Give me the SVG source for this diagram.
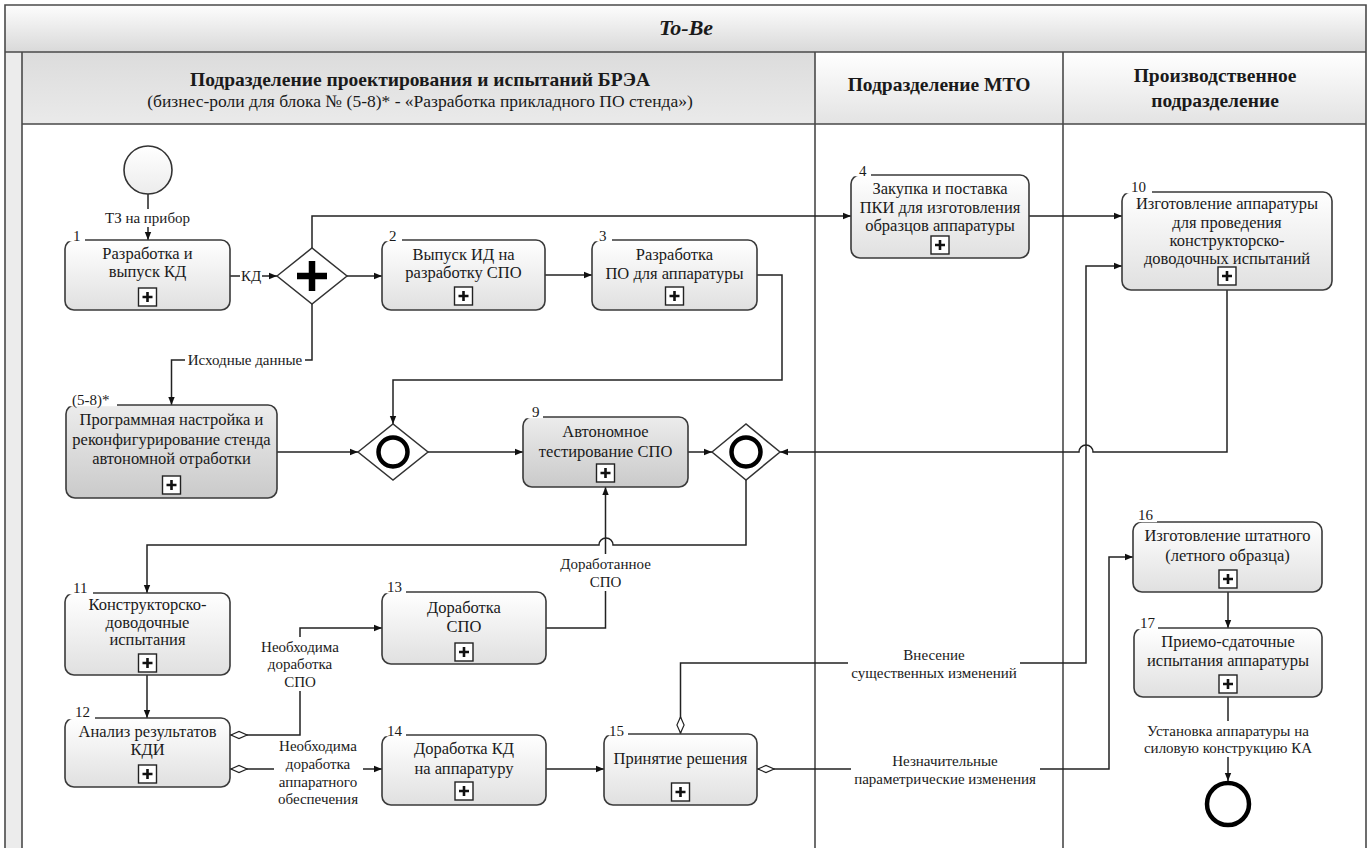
<svg xmlns="http://www.w3.org/2000/svg" width="1371" height="848" viewBox="0 0 1371 848">
  <defs>
    <style>
      text { font-family: "Liberation Serif", "Times New Roman", serif; fill: #1a1a1a; }
      .frame { fill: none; stroke: #4a4a4a; stroke-width: 1.6; }
      .hdr { font-size: 19.5px; font-weight: bold; text-anchor: middle; }
      .sub { font-size: 17.5px; text-anchor: middle; }
      .title { font-size: 22px; font-weight: bold; font-style: italic; text-anchor: middle; }
      .box { fill: url(#gTask); stroke: #3a3a3a; stroke-width: 1.6; }
      .box.dark { fill: url(#gTaskDark); }
      .gap { fill: #ffffff; }
      .tt { font-size: 16.5px; text-anchor: middle; }
      .num { font-size: 15px; }
      .lbl { font-size: 15px; text-anchor: middle; }
      .conn path { fill: none; stroke: #222; stroke-width: 1.5; }
      .flow { marker-end: url(#arrow); }
      .cond { marker-start: url(#cond); }
      .gw { fill: #ffffff; stroke: #333; stroke-width: 1.5; }
    </style>
    <linearGradient id="gTitle" x1="0" y1="0" x2="0" y2="1">
      <stop offset="0" stop-color="#fdfdfd"/>
      <stop offset="1" stop-color="#d9d9d9"/>
    </linearGradient>
    <linearGradient id="gHead1" x1="0" y1="0" x2="0" y2="1">
      <stop offset="0" stop-color="#dcdcdc"/>
      <stop offset="1" stop-color="#eaeaea"/>
    </linearGradient>
    <linearGradient id="gHead2" x1="0" y1="0" x2="0" y2="1">
      <stop offset="0" stop-color="#ffffff"/>
      <stop offset="1" stop-color="#e3e3e3"/>
    </linearGradient>
    <linearGradient id="gTask" x1="0" y1="0" x2="0" y2="1">
      <stop offset="0" stop-color="#ffffff"/>
      <stop offset="1" stop-color="#e0e0e0"/>
    </linearGradient>
    <linearGradient id="gTaskDark" x1="0" y1="0" x2="0" y2="1">
      <stop offset="0" stop-color="#ececec"/>
      <stop offset="1" stop-color="#cacaca"/>
    </linearGradient>
    <linearGradient id="gEvent" x1="0" y1="0" x2="0" y2="1">
      <stop offset="0" stop-color="#ffffff"/>
      <stop offset="1" stop-color="#ececec"/>
    </linearGradient>
    <marker id="arrow" viewBox="0 0 10 10" refX="10" refY="5" markerWidth="9" markerHeight="8" markerUnits="userSpaceOnUse" orient="auto">
      <path d="M0,1 L10,5 L0,9 z" fill="#111"/>
    </marker>
    <marker id="cond" viewBox="0 0 20 10" refX="0" refY="5" markerWidth="18" markerHeight="10" markerUnits="userSpaceOnUse" orient="auto">
      <path d="M1,5 L10,1 L19,5 L10,9 z" fill="#fff" stroke="#222" stroke-width="1.3"/>
    </marker>
    <g id="sub">
      <rect x="-9" y="-9" width="18" height="18" fill="#fff" stroke="#222" stroke-width="1.4"/>
      <path d="M-5,0 H5 M0,-5 V5" stroke="#111" stroke-width="2.6"/>
    </g>
  </defs>

  <!-- pool and lanes -->
  <g id="pool">
    <rect x="0" y="0" width="1371" height="848" fill="#ffffff"/>
    <rect x="5" y="5" width="1361" height="47" fill="url(#gTitle)"/>
    <rect x="5" y="52" width="17" height="800" fill="#ececec"/>
    <rect x="22" y="52" width="793" height="72" fill="url(#gHead1)"/>
    <rect x="815" y="52" width="248" height="72" fill="url(#gHead2)"/>
    <rect x="1063" y="52" width="303" height="72" fill="url(#gHead2)"/>
    <path class="frame" d="M5,852 V5 H1366 V852"/>
    <path class="frame" d="M5,52 H1366" stroke-width="2"/>
    <path class="frame" d="M22,124 H1366 M22,52 V852 M815,52 V852 M1063,52 V852"/>
    <text class="title" x="686" y="35">To-Be</text>
    <text class="hdr" x="420" y="86">Подразделение проектирования и испытаний БРЭА</text>
    <text class="sub" x="420" y="107">(бизнес-роли для блока № (5-8)* - «Разработка прикладного ПО стенда»)</text>
    <text class="hdr" x="939" y="91">Подразделение МТО</text>
    <text class="hdr" x="1215" y="82">Производственное</text>
    <text class="hdr" x="1215" y="107">подразделение</text>
  </g>

  <!-- connectors -->
  <g id="connectors" class="conn">
    <path class="flow" d="M148,194 V240"/>
    <path class="flow" d="M230,276 H277"/>
    <path class="flow" d="M312,248 V216 H851"/>
    <path class="flow" d="M347,276 H382"/>
    <path class="flow" d="M312,304 V360 H171.5 V405"/>
    <path class="flow" d="M545,275 H592"/>
    <path class="flow" d="M757,275 H782 V380 H393 V424"/>
    <path class="flow" d="M277,452 H358"/>
    <path class="flow" d="M428,452 H523"/>
    <path class="flow" d="M688,452 H712"/>
    <path class="flow" d="M1029,216 H1122"/>
    <path class="flow" d="M1227,290 V452 H1093 A7,7 0 0 0 1079,452 H780"/>
    <path class="flow" d="M746,480 V545 H613 A7,7 0 0 0 599,545 H147 V593"/>
    <path class="flow" d="M147,675 V718"/>
    <path class="flow cond" d="M230,735 H300 V628 H382"/>
    <path class="flow cond" d="M230,769 H382"/>
    <path class="flow" d="M546,628 H605.5 V487"/>
    <path class="flow" d="M546,769 H604"/>
    <path class="flow cond" d="M680.5,734 V663 H1086 V266 H1122"/>
    <path class="flow cond" d="M757,769 H1109 V557 H1133"/>
    <path class="flow" d="M1228,592 V628"/>
    <path class="flow" d="M1228,697 V781"/>

    <rect class="gap" x="103" y="209" width="89" height="18"/>
    <text class="lbl" x="147.5" y="223">ТЗ на прибор</text>
    <rect class="gap" x="240" y="268" width="22" height="16"/>
    <text class="lbl" x="251" y="281">КД</text>
    <rect class="gap" x="185" y="351" width="120" height="18"/>
    <text class="lbl" x="245" y="365">Исходные данные</text>
    <rect class="gap" x="256" y="637" width="88" height="54"/>
    <text class="lbl" x="300" y="652">Необходима</text>
    <text class="lbl" x="300" y="669">доработка</text>
    <text class="lbl" x="300" y="687">СПО</text>
    <rect class="gap" x="274" y="736" width="89" height="72"/>
    <text class="lbl" x="318" y="751">Необходима</text>
    <text class="lbl" x="318" y="769">доработка</text>
    <text class="lbl" x="318" y="787">аппаратного</text>
    <text class="lbl" x="318" y="804">обеспечения</text>
    <rect class="gap" x="560" y="554" width="91" height="37"/>
    <text class="lbl" x="605.5" y="569">Доработанное</text>
    <text class="lbl" x="605.5" y="587">СПО</text>
    <rect class="gap" x="848" y="646" width="172" height="36"/>
    <text class="lbl" x="934" y="660">Внесение</text>
    <text class="lbl" x="934" y="678">существенных изменений</text>
    <rect class="gap" x="851" y="751" width="189" height="37"/>
    <text class="lbl" x="945" y="766">Незначительные</text>
    <text class="lbl" x="945" y="784">параметрические изменения</text>
    <rect class="gap" x="1141" y="721" width="174" height="36"/>
    <text class="lbl" x="1228" y="736">Установка аппаратуры на</text>
    <text class="lbl" x="1228" y="753">силовую конструкцию КА</text>
  </g>

  <!-- events -->
  <g id="start">
    <circle cx="148" cy="170" r="24" fill="url(#gEvent)" stroke="#333" stroke-width="1.6"/>
  </g>
  <g id="end">
    <circle cx="1228" cy="804" r="21" fill="#fff" stroke="#000" stroke-width="4.5"/>
  </g>

  <!-- gateways -->
  <g id="gw-fork">
    <path class="gw" d="M277,276 L312,248 L347,276 L312,304 Z"/>
    <path d="M297,276 H327 M312,261 V291" stroke="#000" stroke-width="6.5"/>
  </g>
  <g id="gw-join-1">
    <path class="gw" d="M358,452 L393,424 L428,452 L393,480 Z"/>
    <circle cx="393" cy="452" r="14.5" fill="none" stroke="#000" stroke-width="4.5"/>
  </g>
  <g id="gw-join-2">
    <path class="gw" d="M712,452 L746,424 L780,452 L746,480 Z"/>
    <circle cx="746" cy="452" r="14.5" fill="none" stroke="#000" stroke-width="4.5"/>
  </g>

  <!-- activities -->
  <g id="task-1">
    <rect class="box" x="65" y="240" width="165" height="70" rx="9"/>
    <rect class="gap" x="68" y="227" width="17" height="14.2"/>
    <text class="num" x="73" y="241">1</text>
    <text class="tt" x="147.5" y="258.5">Разработка и</text>
    <text class="tt" x="147.5" y="276.5">выпуск КД</text>
    <use href="#sub" x="147.5" y="297"/>
  </g>
  <g id="task-2">
    <rect class="box" x="382" y="240" width="163" height="70" rx="9"/>
    <rect class="gap" x="385" y="227" width="17" height="14.2"/>
    <text class="num" x="389" y="241">2</text>
    <text class="tt" x="463.5" y="260">Выпуск ИД на</text>
    <text class="tt" x="463.5" y="278">разработку СПО</text>
    <use href="#sub" x="463.5" y="296"/>
  </g>
  <g id="task-3">
    <rect class="box" x="592" y="240" width="165" height="70" rx="9"/>
    <rect class="gap" x="595" y="227" width="17" height="14.2"/>
    <text class="num" x="599" y="241">3</text>
    <text class="tt" x="674.5" y="259.5">Разработка</text>
    <text class="tt" x="674.5" y="279">ПО для аппаратуры</text>
    <use href="#sub" x="674.5" y="296"/>
  </g>
  <g id="task-4">
    <rect class="box" x="851" y="175" width="178" height="83" rx="9"/>
    <rect class="gap" x="854" y="162" width="17" height="14.2"/>
    <text class="num" x="859" y="176">4</text>
    <text class="tt" x="940" y="194">Закупка и поставка</text>
    <text class="tt" x="940" y="212.5">ПКИ для изготовления</text>
    <text class="tt" x="940" y="231">образцов аппаратуры</text>
    <use href="#sub" x="940" y="245"/>
  </g>
  <g id="task-10">
    <rect class="box" x="1122" y="192" width="210" height="98" rx="9"/>
    <rect class="gap" x="1125" y="179" width="27" height="14.2"/>
    <text class="num" x="1131" y="192">10</text>
    <text class="tt" x="1227" y="209">Изготовление аппаратуры</text>
    <text class="tt" x="1227" y="227.5">для проведения</text>
    <text class="tt" x="1227" y="245.5">конструкторско-</text>
    <text class="tt" x="1227" y="263.5">доводочных испытаний</text>
    <use href="#sub" x="1227" y="276"/>
  </g>
  <g id="task-5-8">
    <rect class="box dark" x="66" y="405" width="211" height="93" rx="9"/>
    <rect class="gap" x="69" y="392" width="48" height="14.2"/>
    <text class="num" x="72" y="405">(5-8)*</text>
    <text class="tt" x="171.5" y="424.5">Программная настройка и</text>
    <text class="tt" x="171.5" y="444.5">реконфигурирование стенда</text>
    <text class="tt" x="171.5" y="464">автономной отработки</text>
    <use href="#sub" x="171.5" y="485"/>
  </g>
  <g id="task-9">
    <rect class="box dark" x="523" y="417" width="165" height="70" rx="9"/>
    <rect class="gap" x="526" y="404" width="17" height="14.2"/>
    <text class="num" x="532" y="417">9</text>
    <text class="tt" x="605.5" y="436.5">Автономное</text>
    <text class="tt" x="605.5" y="456.5">тестирование СПО</text>
    <use href="#sub" x="605.5" y="473"/>
  </g>
  <g id="task-11">
    <rect class="box" x="65" y="593" width="165" height="82" rx="9"/>
    <rect class="gap" x="68" y="580" width="25" height="14.2"/>
    <text class="num" x="73" y="593">11</text>
    <text class="tt" x="147.5" y="609.5">Конструкторско-</text>
    <text class="tt" x="147.5" y="627.5">доводочные</text>
    <text class="tt" x="147.5" y="645">испытания</text>
    <use href="#sub" x="147.5" y="663"/>
  </g>
  <g id="task-12">
    <rect class="box" x="65" y="718" width="165" height="69" rx="9"/>
    <rect class="gap" x="68" y="705" width="27" height="14.2"/>
    <text class="num" x="75" y="717">12</text>
    <text class="tt" x="147.5" y="736.5">Анализ результатов</text>
    <text class="tt" x="147.5" y="755">КДИ</text>
    <use href="#sub" x="147.5" y="774"/>
  </g>
  <g id="task-13">
    <rect class="box" x="382" y="592" width="164" height="72" rx="9"/>
    <rect class="gap" x="385" y="579" width="21" height="14.2"/>
    <text class="num" x="387" y="592">13</text>
    <text class="tt" x="464" y="612.5">Доработка</text>
    <text class="tt" x="464" y="631.5">СПО</text>
    <use href="#sub" x="464" y="652"/>
  </g>
  <g id="task-14">
    <rect class="box" x="382" y="735" width="164" height="70" rx="9"/>
    <rect class="gap" x="385" y="722" width="21" height="14.2"/>
    <text class="num" x="387" y="736">14</text>
    <text class="tt" x="464" y="753.5">Доработка КД</text>
    <text class="tt" x="464" y="773.5">на аппаратуру</text>
    <use href="#sub" x="464" y="791"/>
  </g>
  <g id="task-15">
    <rect class="box" x="604" y="734" width="153" height="71" rx="9"/>
    <rect class="gap" x="607" y="721" width="21" height="14.2"/>
    <text class="num" x="609" y="736">15</text>
    <text class="tt" x="680.5" y="763.5">Принятие решения</text>
    <use href="#sub" x="680.5" y="792"/>
  </g>
  <g id="task-16">
    <rect class="box" x="1133" y="522" width="189" height="70" rx="9"/>
    <rect class="gap" x="1136" y="508" width="21" height="14.2"/>
    <text class="num" x="1138" y="520">16</text>
    <text class="tt" x="1227.5" y="540.5">Изготовление штатного</text>
    <text class="tt" x="1227.5" y="560.5">(летного образца)</text>
    <use href="#sub" x="1228" y="579"/>
  </g>
  <g id="task-17">
    <rect class="box" x="1134" y="628" width="188" height="69" rx="9"/>
    <rect class="gap" x="1137" y="615" width="21" height="14.2"/>
    <text class="num" x="1140" y="628">17</text>
    <text class="tt" x="1228" y="646.5">Приемо-сдаточные</text>
    <text class="tt" x="1228" y="665.5">испытания аппаратуры</text>
    <use href="#sub" x="1228" y="684"/>
  </g>
</svg>
